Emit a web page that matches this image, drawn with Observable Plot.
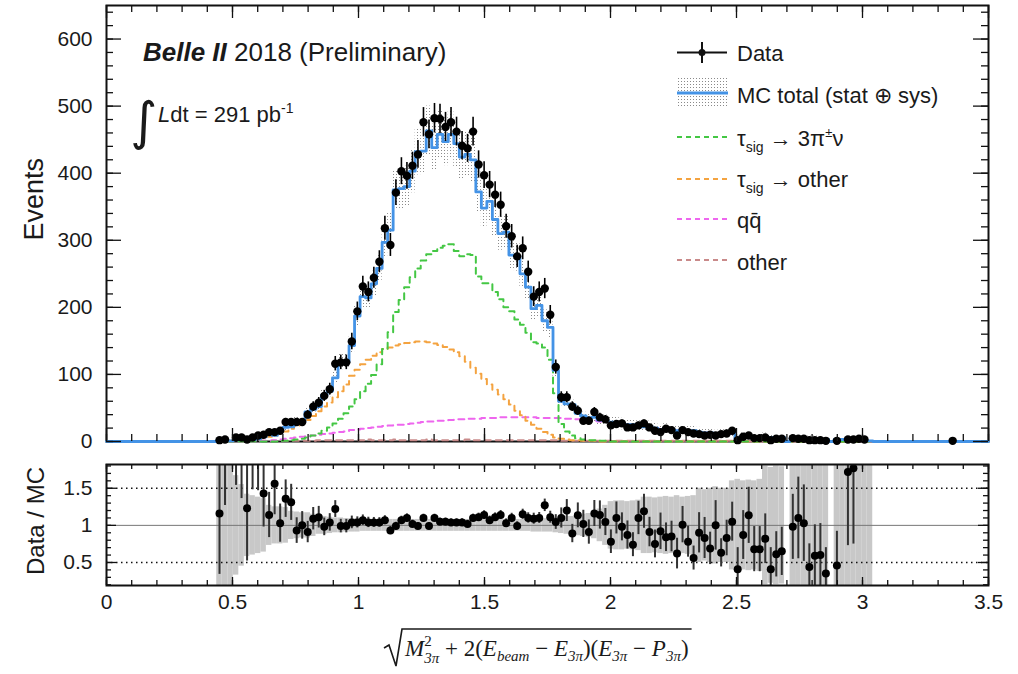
<!DOCTYPE html>
<html>
<head>
<meta charset="utf-8">
<script src="https://cdn.jsdelivr.net/npm/d3@7"></script>
<script src="https://cdn.jsdelivr.net/npm/@observablehq/plot@0.6"></script>
<style>
  html,body{margin:0;padding:0;background:#fff;}
  #wrap{position:relative;width:1018px;height:674px;overflow:hidden;font-family:"Liberation Sans",Arial,sans-serif;}
  #main,#ratio,#ann{position:absolute;left:0;}
  #main{top:0;} #ratio{top:455px;} #ann{top:0;pointer-events:none;}
</style>
</head>
<body>
<svg width="0" height="0" style="position:absolute">
  <defs>
    <pattern id="mcHatch" width="3" height="3" patternUnits="userSpaceOnUse">
      <rect x="0" y="0" width="1" height="1" fill="#8a8a8a"></rect>
    </pattern>
  </defs>
</svg>
<div id="wrap">
  <div id="main"></div>
  <div id="ratio"></div>
  <svg id="ann" width="1018" height="674" font-family="Liberation Sans, Arial, sans-serif" fill="#1a1a1a">
    <text x="143" y="61" font-size="26"><tspan font-weight="bold" font-style="italic">Belle II</tspan> 2018 (Preliminary)</text>
    <text x="130" y="139" font-size="52" font-family="DejaVu Sans">∫</text>
    <text x="158" y="122" font-size="22"><tspan font-style="italic">L</tspan>dt = 291 pb<tspan font-size="14" dy="-9">-1</tspan></text>
    <text transform="translate(43,158) rotate(-90)" text-anchor="end" font-size="27">Events</text>
    <text transform="translate(44,467) rotate(-90)" text-anchor="end" font-size="24">Data / MC</text>

    <!-- legend -->
    <g font-size="22">
      <line x1="677" x2="727" y1="52.5" y2="52.5" stroke="#111" stroke-width="2"></line>
      <line x1="702" x2="702" y1="42" y2="63" stroke="#111" stroke-width="2"></line>
      <circle cx="702" cy="52.5" r="3.5" fill="#111"></circle>
      <text x="737" y="61">Data</text>

      <rect x="677" y="78" width="51" height="30" fill="url(#mcHatch)"></rect>
      <line x1="677" x2="728" y1="93" y2="93" stroke="#4493e6" stroke-width="3"></line>
      <text x="737" y="103">MC total (stat ⊕ sys)</text>

      <line x1="677" x2="728" y1="137" y2="137" stroke="#44c744" stroke-width="2" stroke-dasharray="5,4"></line>
      <text x="737" y="146">τ<tspan font-size="14" dy="6">sig</tspan><tspan dy="-6"> → 3π</tspan><tspan font-size="13" dy="-9">±</tspan><tspan dy="9">ν</tspan></text>

      <line x1="677" x2="728" y1="179" y2="179" stroke="#f4a340" stroke-width="2" stroke-dasharray="5,4"></line>
      <text x="737" y="187">τ<tspan font-size="14" dy="6">sig</tspan><tspan dy="-6"> → other</tspan></text>

      <line x1="677" x2="728" y1="219" y2="219" stroke="#ee66ee" stroke-width="2" stroke-dasharray="5,4"></line>
      <text x="737" y="228">qq̄</text>

      <line x1="677" x2="728" y1="260" y2="260" stroke="#c98a8a" stroke-width="2" stroke-dasharray="5,4"></line>
      <text x="737" y="270">other</text>
    </g>

    <!-- x axis title -->
    <g font-family="Liberation Serif, Times New Roman, serif" font-size="23">
      <text id="xtitle" x="405" y="656"><tspan font-style="italic">M</tspan><tspan font-size="15" dy="-10">2</tspan><tspan font-size="15" font-style="italic" dx="-7.5" dy="17">3π</tspan><tspan dy="-7"> + 2(</tspan><tspan font-style="italic">E</tspan><tspan font-size="15" font-style="italic" dy="5">beam</tspan><tspan dy="-5"> − </tspan><tspan font-style="italic">E</tspan><tspan font-size="15" font-style="italic" dy="5">3π</tspan><tspan dy="-5">)(</tspan><tspan font-style="italic">E</tspan><tspan font-size="15" font-style="italic" dy="5">3π</tspan><tspan dy="-5"> − </tspan><tspan font-style="italic">P</tspan><tspan font-size="15" font-style="italic" dy="5">3π</tspan><tspan dy="-5">)</tspan></text>
      <path id="radical" fill="none" stroke="#1a1a1a" stroke-width="1.6"></path>
    </g>
  </svg>
</div>
<script>
// ---- binning: 160 bins over [0, 3.5]; arrays below start at bin index firstBin ----
const binWidth = 3.5 / 160;
const firstBin = 20;

// Data counts per bin (k = 20 ... 153)
const dataCounts = [
  2,3,null,6,6,3,6,9,10,14,
  14,16,29,29,29,29,40,52,58,68,
  78,116,118,118,149,194,231,223,244,268,
  318,293,371,403,396,411,428,476,458,482,
  481,469,476,462,441,437,462,413,397,383,
  368,353,321,306,276,288,253,216,223,228,
  189,111,66,66,52,46,31,31,44,36,
  33,24,26,27,21,21,24,27,21,16,
  14,19,17,9,17,14,12,11,9,10,
  9,11,12,16,2,7,9,5,5,6,
  2,4,4,null,5,4,4,2,2,2,
  1,null,1,null,3,3,4,3,null,null,
  null,null,null,null,null,null,null,null,null,null,
  null,null,null,1
];

// Data / MC ratio per bin (k = 20 ... 138)
const ratioValues = [
  1.16,3.0,null,2.6,2.3,1.23,2.5,2.2,1.43,1.14,
  1.56,1.03,1.36,1.31,0.93,1.0,0.91,1.09,1.11,0.98,
  1.04,1.22,0.99,0.99,1.04,1.04,1.07,1.04,1.04,1.04,
  1.07,0.93,0.99,1.07,1.10,1.02,0.99,1.10,0.99,1.10,
  1.05,1.05,1.04,1.04,1.04,1.02,1.10,1.11,1.14,1.07,
  1.11,1.14,1.03,1.10,0.99,1.15,1.10,1.09,1.10,1.27,
  1.11,1.045,1.10,1.20,0.89,1.135,1.02,0.91,1.16,1.14,
  1.045,0.78,1.10,0.98,0.87,0.74,1.10,1.19,0.91,0.75,
  0.92,0.84,0.85,0.62,1.01,0.78,0.56,0.90,0.83,0.69,
  1.00,0.63,0.83,1.05,0.41,0.87,1.135,0.68,0.68,0.82,
  0.41,0.61,0.65,null,0.98,1.10,1.03,0.44,0.59,0.60,
  0.35,null,0.46,null,1.72,1.77,null,null,null
];

// MC total per bin (k = 20 ... 138)
const mcTotal = [
  2,1,1,2.5,3,2.4,3,4,7,12,
  9,15.5,21,22,31,29,44,48,52,69,
  75,95,119,119,143,187,216,214,235,258,
  297,315,375,377,380,403,432,433,463,438,
  458,447,458,444,424,428,420,372,348,358,
  331,310,312,278,276,250,230,198,203,180,
  170,106,60,56,55,42,38,35,36,32,
  31,29,27,26,25,25,23,22,22,20,
  18,19,18,16,16,16,16,14,13,13,
  11,12,12,13,5,8,8,7,7,7,
  6,6,6,0,5,4,4,4,4,3,
  3,0,3,3,2,2,2,1,1
];

// Relative MC uncertainty (stat ⊕ sys) per bin (k = 20 ... 138)
const mcBand = [
  1.0,1.0,1.0,0.67,0.55,0.42,0.40,0.38,0.36,0.27,
  0.25,0.25,0.24,0.19,0.18,0.17,0.17,0.15,0.12,0.12,
  0.11,0.10,0.10,0.09,0.09,0.09,0.08,0.08,0.08,0.08,
  0.08,0.08,0.08,0.08,0.08,0.08,0.08,0.08,0.08,0.08,
  0.08,0.08,0.08,0.08,0.08,0.08,0.08,0.08,0.08,0.08,
  0.08,0.08,0.08,0.08,0.08,0.08,0.08,0.09,0.09,0.09,
  0.09,0.10,0.11,0.12,0.12,0.14,0.15,0.16,0.18,0.22,
  0.27,0.32,0.33,0.33,0.32,0.33,0.34,0.38,0.38,0.37,
  0.38,0.39,0.38,0.40,0.38,0.39,0.40,0.50,0.48,0.50,
  0.52,0.50,0.50,0.60,0.62,0.60,0.61,0.60,0.62,0.80,
  0.78,0.80,0.79,null,1.0,1.0,1.0,1.0,1.0,1.0,
  1.0,null,1.0,1.0,1.0,1.0,1.0,1.0,1.0
];

// τ_sig → 3π±ν (k = 20 ... 138)
const sig3pi = [
  0,0,0,0,0,0,0,0,0,0,
  0,1,1,2,3,4,6,9,12,16,
  21,27,34,42,52,63,75,86,99,115,
  138,163,193,211,230,245,258,270,279,284,
  289,292,294,284,276,279,278,246,236,236,
  223,212,200,194,182,174,162,148,146,140,
  122,72,26,15,9,5,3,2,2,1,
  1,0,0,0,0,0,0,0,0,0,
  0,0,0,0,0,0,0,0,0,0,
  0,0,0,0,0,0,0,0,0,0,
  0,0,0,0,0,0,0,0,0,0,
  0,0,0,0,0,0,0,0,0
];

// τ_sig → other (k = 20 ... 138)
const sigOther = [
  0,0,1,1,2,2,3,4,5,7,
  9,12,15,19,23,27,32,38,45,52,
  58,66,75,85,98,107,115,122,128,133,
  138,140,143,145,147,148,149,149,148,146,
  144,141,137,133,127,119,110,101,93,85,
  77,70,63,55,46,39,31,25,19,14,
  10,6,4,3,2,2,1,1,1,0,
  0,0,0,0,0,0,0,0,0,0,
  0,0,0,0,0,0,0,0,0,0,
  0,0,0,0,0,0,0,0,0,0,
  0,0,0,0,0,0,0,0,0,0,
  0,0,0,0,0,0,0,0,0
];

// q q̄ (k = 20 ... 138)
const qqbar = [
  0,0,0,0,0,0,0,0,1,1,
  2,3,4,5,6,7,8,9,10,11,
  12,13,14,15,17,18,19,20,21,22,
  23,24,25,25,26,27,28,29,30,30,
  31,31,32,33,33,34,34,34,35,35,
  35,36,36,36,36,36,36,36,35,35,
  35,35,35,34,34,33,32,31,31,30,
  29,28,27,26,25,24,23,22,21,20,
  19,18,17,16,16,15,14,13,13,12,
  11,11,11,11,4,6,6,6,6,5,
  5,5,5,0,4,4,3,3,3,3,
  3,0,2,2,2,2,2,1,1
];

// other backgrounds (k = 20 ... 138)
const otherBkg = [
  0,0,0,0,0,1,1,1,1,1,
  1,1,1,1,1,1,1,1,2,2,
  2,2,2,2,2,2,2,3,2,2,
  2,2,3,2,2,2,2,2,3,2,
  2,2,2,2,2,3,2,2,2,2,
  2,2,2,2,2,2,2,2,2,2,
  2,2,1,1,1,1,1,1,1,1,
  1,1,1,1,1,1,1,1,1,1,
  1,1,1,1,1,1,1,1,1,1,
  1,1,1,1,0,0,0,0,0,0,
  0,0,0,0,0,0,0,0,0,0,
  0,0,0,0,0,0,0,0,0
];

// axis ticks
const xTickValues = [0, 0.5, 1, 1.5, 2, 2.5, 3, 3.5];
const xMinorTicks = d3.range(0, 36).map(i => i / 10);
const eventTicks = [0, 100, 200, 300, 400, 500, 600];
const eventMinorTicks = d3.range(0, 33).map(i => i * 20);
const ratioTickValues = [0.5, 1, 1.5];
const ratioMinorTicks = d3.range(2, 19).map(i => i / 10);
const ratioGuides = [0.5, 1.5];

// colours
const cBlue = "#4493e6", cGreen = "#44c744", cOrange = "#f4a340", cMagenta = "#ee66ee", cOther = "#c98a8a";

// ---- build bin table ----
const nBins = 160;
const pick = (arr, k, fill) => { const i = k - firstBin; return (i >= 0 && i < arr.length && arr[i] != null) ? arr[i] : fill; };
const bins = d3.range(nBins).map(k => ({
  k, x0: k * binWidth, x1: (k + 1) * binWidth, xc: (k + 0.5) * binWidth,
  data: pick(dataCounts, k, null),
  ratio: pick(ratioValues, k, null),
  mc: pick(mcTotal, k, 0),
  band: pick(mcBand, k, null),
  sig: pick(sig3pi, k, 0),
  sigO: pick(sigOther, k, 0),
  qq: pick(qqbar, k, 0),
  oth: pick(otherBkg, k, 0)
}));
const dataRows = bins.filter(b => b.data != null && b.data > 0);
const ratioRows = bins.filter(b => b.ratio != null && b.data != null && b.data > 0)
  .map(b => ({...b, rerr: b.ratio / Math.sqrt(b.data)}));
const bandRows = bins.filter(b => b.band != null && b.mc > 0);
const steps = key => bins.flatMap(b => [{x: b.x0, y: b[key]}, {x: b.x1, y: b[key]}]);

function frameTicks(xMaj, xMin, yMaj, yMin, W, H, xMajLen, xMinLen, yMajLen, yMinLen) {
  const s = {stroke: "#111", strokeWidth: 1.3};
  return [
    Plot.ruleX(xMaj, {...s, insetTop: H - xMajLen}),
    Plot.ruleX(xMaj, {...s, insetBottom: H - xMajLen}),
    Plot.ruleX(xMin, {...s, insetTop: H - xMinLen}),
    Plot.ruleX(xMin, {...s, insetBottom: H - xMinLen}),
    Plot.ruleY(yMaj, {...s, insetRight: W - yMajLen}),
    Plot.ruleY(yMaj, {...s, insetLeft: W - yMajLen}),
    Plot.ruleY(yMin, {...s, insetRight: W - yMinLen}),
    Plot.ruleY(yMin, {...s, insetLeft: W - yMinLen})
  ];
}

const fontStyle = {fontFamily: "Liberation Sans, Arial, sans-serif", fontSize: "21px", color: "#1a1a1a", background: "transparent"};
const dash = {strokeWidth: 2, strokeDasharray: "6,5"};

const mainPlot = Plot.plot({
  width: 1018, height: 455,
  marginLeft: 106, marginRight: 30, marginTop: 5, marginBottom: 14,
  style: fontStyle,
  x: {domain: [0, 3.5], axis: null},
  y: {domain: [0, 650], ticks: eventTicks, tickSize: 0, tickPadding: 14, label: null},
  marks: [
    Plot.rect(bandRows, {x1: "x0", x2: "x1", y1: d => d.mc * (1 - d.band), y2: d => d.mc * (1 + d.band), fill: "url(#mcHatch)"}),
    Plot.frame({stroke: "#111", strokeWidth: 2}),
    Plot.line(steps("oth"), {x: "x", y: "y", stroke: cOther, ...dash}),
    Plot.line(steps("qq"), {x: "x", y: "y", stroke: cMagenta, ...dash}),
    Plot.line(steps("sigO"), {x: "x", y: "y", stroke: cOrange, ...dash}),
    Plot.line(steps("sig"), {x: "x", y: "y", stroke: cGreen, ...dash}),
    Plot.line(steps("mc"), {x: "x", y: "y", stroke: cBlue, strokeWidth: 2.8}),
    Plot.ruleX(dataRows, {x: "xc", y1: d => d.data - Math.sqrt(d.data), y2: d => d.data + Math.sqrt(d.data), stroke: "#000", strokeWidth: 1.6}),
    Plot.ruleY(dataRows, {y: "data", x1: "x0", x2: "x1", stroke: "#000", strokeWidth: 1.6}),
    Plot.dot(dataRows, {x: "xc", y: "data", r: 4.2, fill: "#000"}),
    ...frameTicks(xTickValues, xMinorTicks, eventTicks, eventMinorTicks, 882, 436, 13, 7, 15, 7)
  ]
});
document.getElementById("main").append(mainPlot);

const ratioPlot = Plot.plot({
  width: 1018, height: 219,
  marginLeft: 106, marginRight: 30, marginTop: 9, marginBottom: 89,
  style: fontStyle,
  x: {domain: [0, 3.5], ticks: xTickValues, tickSize: 0, tickPadding: 9, tickFormat: d => String(d), label: null},
  y: {domain: [0.19, 1.82], ticks: ratioTickValues, tickSize: 0, tickPadding: 14, tickFormat: d => String(d), label: null},
  marks: [
    Plot.rect(bandRows, {x1: "x0", x2: "x1", y1: d => 1 - d.band, y2: d => 1 + d.band, fill: "#c8c8c8", clip: true}),
    Plot.ruleY([1], {stroke: "#777", strokeWidth: 1}),
    Plot.ruleY(ratioGuides, {stroke: "#111", strokeWidth: 1.6, strokeDasharray: "1.5,3.5"}),
    Plot.ruleX(ratioRows, {x: "xc", y1: d => d.ratio - d.rerr, y2: d => d.ratio + d.rerr, stroke: "#333", strokeWidth: 2, clip: true}),
    Plot.ruleY(ratioRows, {y: "ratio", x1: "x0", x2: "x1", stroke: "#000", strokeWidth: 1.6, clip: true}),
    Plot.dot(ratioRows, {x: "xc", y: "ratio", r: 4, fill: "#000", clip: true}),
    Plot.frame({stroke: "#111", strokeWidth: 2}),
    ...frameTicks(xTickValues, xMinorTicks, ratioTickValues, ratioMinorTicks, 882, 121, 8, 5, 10, 5)
  ]
});
document.getElementById("ratio").append(ratioPlot);

// radical sign around the x-axis title
(function () {
  const t = document.getElementById("xtitle");
  const bb = t.getBBox();
  const x0 = bb.x, x1 = bb.x + bb.width + 3;
  const top = 629;
  document.getElementById("radical").setAttribute("d",
    `M${x0 - 20},648 L${x0 - 15},645 L${x0 - 8},666 L${x0 - 2},${top} L${x1},${top}`);
})();
</script>
</body>
</html>
